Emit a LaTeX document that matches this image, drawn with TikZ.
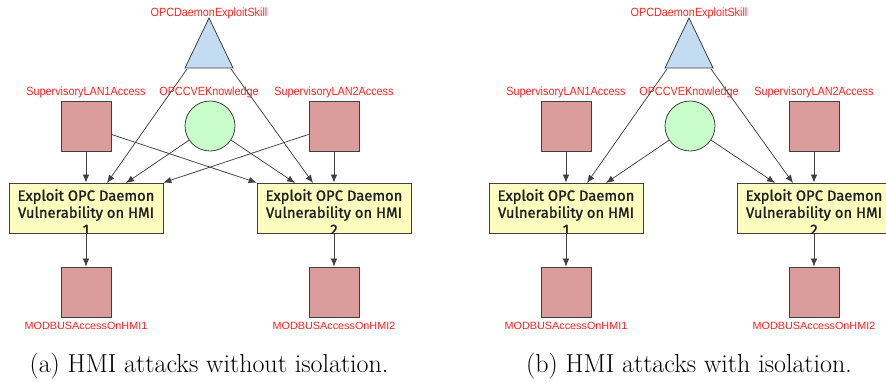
\documentclass[tikz,border=0pt]{standalone}
\usepackage{fontspec}
\usepackage{graphicx}
\newfontfamily\boxfont{Fira Sans}[FakeBold=1.2]
\newfontfamily\labfont{Liberation Sans}
\usetikzlibrary{arrows.meta}
\definecolor{sqfill}{HTML}{DB9C9C}
\definecolor{cgfill}{HTML}{C8FCC8}
\definecolor{trfill}{HTML}{C4DCF2}
\definecolor{ybfill}{HTML}{FCFCBE}
\definecolor{ecol}{HTML}{404040}
\definecolor{lred}{HTML}{FF2424}
\tikzset{
  sqnode/.style={draw=ecol, fill=sqfill, minimum size=50pt, inner sep=0pt, line width=0.8pt},
  circnode/.style={circle, draw=ecol, fill=cgfill, minimum size=50pt, inner sep=0pt, line width=0.8pt},
  trinode/.style={draw=ecol, fill=trfill, line width=0.8pt, line join=miter},
  hbox/.style={draw=ecol, fill=ybfill, minimum width=154pt, minimum height=50pt, inner sep=0pt, line width=0.8pt},
  btext/.style={font=\boxfont\fontsize{14.8}{17}\selectfont, align=center, text=black!88, inner sep=0pt},
  labtop/.style={font=\labfont\fontsize{11.9}{12}\selectfont, text=lred, inner sep=0pt},
  labbot/.style={font=\labfont\fontsize{10.5}{11}\selectfont, text=lred, inner sep=0pt},
  conn/.style={draw=ecol, line width=0.75pt, -{Latex[length=8pt,width=6.5pt]}},
  capt/.style={font=\fontsize{26}{30}\selectfont, anchor=base, inner sep=0pt}
}
\begin{document}
\begin{tikzpicture}[x=1pt,y=-1pt]
\useasboundingbox (0,0) rectangle (886,381);

% ================= panel (a) =================
\draw[trinode] (209,18) -- (233,68) -- (185,68) -- cycle;
\coordinate (aTL) at (187,69);
\coordinate (aTR) at (231,69);
\node[labtop] (aTlab) at (209,13) {\scalebox{0.91}[1]{OPCDaemonExploitSkill}};

\node[sqnode] (aL1) at (86,126) {};
\node[circnode] (aC) at (210,126) {};
\node[sqnode] (aL2) at (334,126) {};
\node[labtop] (aL1lab) at (86,92) {\scalebox{0.91}[1]{SupervisoryLAN1Access}};
\node[labtop] (aClab) at (209,92) {\scalebox{0.91}[1]{OPCCVEKnowledge}};
\node[labtop] (aL2lab) at (334,92) {\scalebox{0.91}[1]{SupervisoryLAN2Access}};

\node[hbox] (aB1) at (86,208) {};
\node[hbox] (aB2) at (334,208) {};
\begin{scope}
\clip (aB1.south west) rectangle (aB1.north east);
\node[btext] (aB1t) at (86,212) {Exploit OPC Daemon\\Vulnerability on HMI\\1};
\end{scope}
\begin{scope}
\clip (aB2.south west) rectangle (aB2.north east);
\node[btext] (aB2t) at (334,212) {Exploit OPC Daemon\\Vulnerability on HMI\\2};
\end{scope}

\node[sqnode] (aM1) at (86,292) {};
\node[sqnode] (aM2) at (334,292) {};
\node[labbot] (aM1lab) at (86,326) {\scalebox{1.03}[1]{MODBUSAccessOnHMI1}};
\node[labbot] (aM2lab) at (334,326) {\scalebox{1.03}[1]{MODBUSAccessOnHMI2}};

\coordinate (aB1p) at (107,183);
\coordinate (aB1q) at (126,183);
\coordinate (aB2p) at (295,183);
\coordinate (aB2q) at (313,183);

\draw[conn] (aL1) -- (aB1);
\draw[conn] (aL2) -- (aB2);
\draw[conn] (aTL) -- (aB1p);
\draw[conn] (aTR) -- (aB2q);
\draw[conn] (aC) -- (aB1q);
\draw[conn] (aC) -- (aB2p);
\draw[conn] (aL1) -- (aB2.north west);
\draw[conn] (aL2) -- (aB1.north east);
\draw[conn] (aB1) -- (aM1);
\draw[conn] (aB2) -- (aM2);

\node[capt] (aCap) at (209,372) {(a) HMI attacks without isolation.};

% ================= panel (b) =================
\draw[trinode] (689,18) -- (713,68) -- (665,68) -- cycle;
\coordinate (bTL) at (667,69);
\coordinate (bTR) at (711,69);
\node[labtop] (bTlab) at (689,13) {\scalebox{0.91}[1]{OPCDaemonExploitSkill}};

\node[sqnode] (bL1) at (566,126) {};
\node[circnode] (bC) at (690,126) {};
\node[sqnode] (bL2) at (814,126) {};
\node[labtop] (bL1lab) at (566,92) {\scalebox{0.91}[1]{SupervisoryLAN1Access}};
\node[labtop] (bClab) at (689,92) {\scalebox{0.91}[1]{OPCCVEKnowledge}};
\node[labtop] (bL2lab) at (814,92) {\scalebox{0.91}[1]{SupervisoryLAN2Access}};

\node[hbox] (bB1) at (566,208) {};
\node[hbox] (bB2) at (814,208) {};
\begin{scope}
\clip (bB1.south west) rectangle (bB1.north east);
\node[btext] (bB1t) at (566,212) {Exploit OPC Daemon\\Vulnerability on HMI\\1};
\end{scope}
\begin{scope}
\clip (bB2.south west) rectangle (bB2.north east);
\node[btext] (bB2t) at (814,212) {Exploit OPC Daemon\\Vulnerability on HMI\\2};
\end{scope}

\node[sqnode] (bM1) at (566,292) {};
\node[sqnode] (bM2) at (814,292) {};
\node[labbot] (bM1lab) at (566,326) {\scalebox{1.03}[1]{MODBUSAccessOnHMI1}};
\node[labbot] (bM2lab) at (814,326) {\scalebox{1.03}[1]{MODBUSAccessOnHMI2}};

\coordinate (bB1p) at (587,183);
\coordinate (bB1q) at (606,183);
\coordinate (bB2p) at (775,183);
\coordinate (bB2q) at (793,183);

\draw[conn] (bL1) -- (bB1);
\draw[conn] (bL2) -- (bB2);
\draw[conn] (bTL) -- (bB1p);
\draw[conn] (bTR) -- (bB2q);
\draw[conn] (bC) -- (bB1q);
\draw[conn] (bC) -- (bB2p);
\draw[conn] (bB1) -- (bM1);
\draw[conn] (bB2) -- (bM2);

\node[capt] (bCap) at (689,372) {(b) HMI attacks with isolation.};
\end{tikzpicture}
\end{document}
